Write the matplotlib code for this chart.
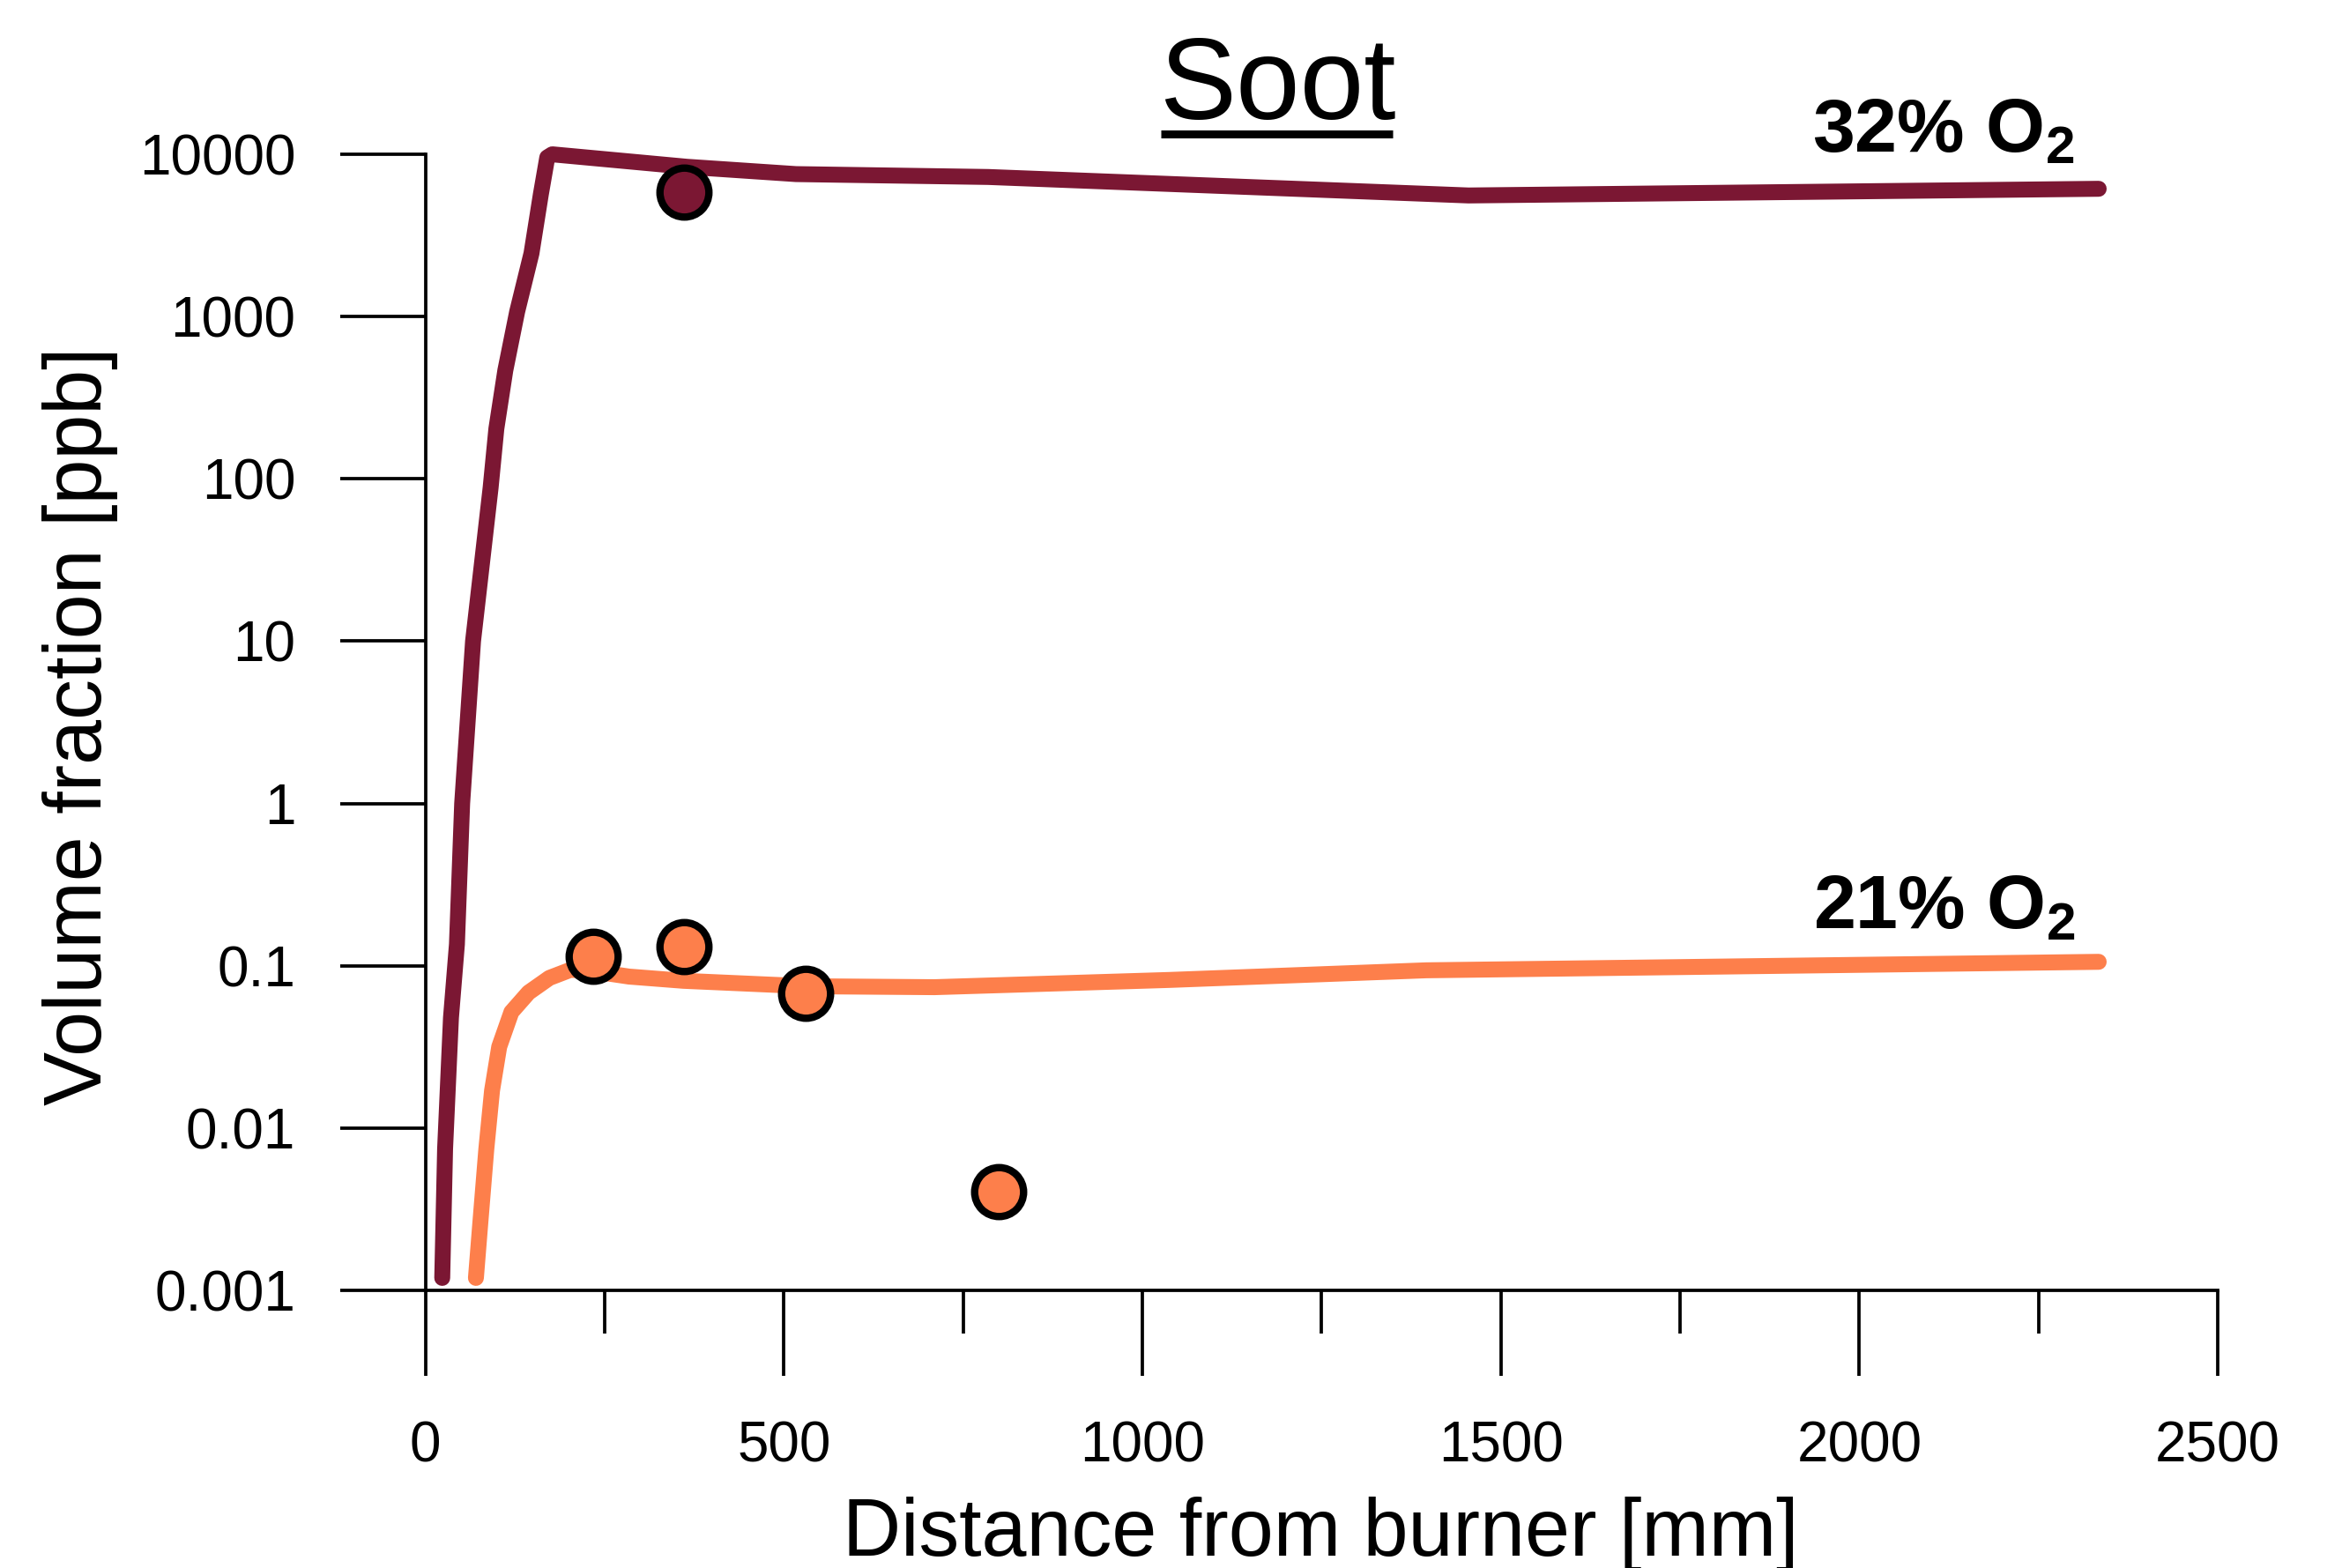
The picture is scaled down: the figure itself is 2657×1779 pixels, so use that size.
import matplotlib
matplotlib.use("Agg")
import matplotlib.pyplot as plt
from matplotlib.lines import Line2D

# ---- data ----
x_32 = [23.5, 27.5, 35.7, 44, 51.3, 66.5, 91, 99, 111.5, 128, 148, 161, 170, 177,
        365, 517, 785, 1455, 2334]
y_32 = [0.0012, 0.0075, 0.048, 0.136, 1, 10, 88, 203, 464, 1066, 2440, 5610, 9500, 9930,
        8320, 7500, 7200, 5540, 6090]

x_21 = [70.5, 76.7, 85, 93, 103, 120, 144, 173, 202, 225, 284, 360, 531, 710, 1038, 1396, 2334]
y_21 = [0.0012, 0.00264, 0.00745, 0.0171, 0.0318, 0.052, 0.0686, 0.0844, 0.0945, 0.094,
        0.086, 0.081, 0.075, 0.074, 0.082, 0.094, 0.106]

pts_32_x = [361]
pts_32_y = [5800]
pts_21_x = [233.5, 361, 530.5, 800]
pts_21_y = [0.114, 0.131, 0.068, 0.0041]

y_ticks = [0.001, 0.01, 0.1, 1, 10, 100, 1000, 10000]
y_tick_labels = ["0.001", "0.01", "0.1", "1", "10", "100", "1000", "10000"]
x_ticks = [0, 500, 1000, 1500, 2000, 2500]
x_tick_labels = ["0", "500", "1000", "1500", "2000", "2500"]
x_minor = [250, 750, 1250, 1750, 2250]

title = "Soot"
label_32 = "32% O$_2$"
label_21 = "21% O$_2$"
xlabel = "Distance from burner [mm]"
ylabel = "Volume fraction [ppb]"

c32 = "#7B1733"
c21 = "#FD7F4B"

plt.rcParams['font.family'] = ['Liberation Sans', 'DejaVu Sans']
plt.rcParams['mathtext.fontset'] = 'custom'
plt.rcParams['mathtext.rm'] = 'Liberation Sans:bold'
plt.rcParams['mathtext.it'] = 'Liberation Sans:bold'
plt.rcParams['mathtext.bf'] = 'Liberation Sans:bold'

fig = plt.figure(figsize=(26.57, 17.79), dpi=100)
ax = fig.add_axes([0.18163, 0.17679, 0.7653, 0.72512])

ax.plot(x_32, y_32, color=c32, lw=13, solid_capstyle='round', solid_joinstyle='round',
        clip_on=False, zorder=3)
ax.plot(x_21, y_21, color=c21, lw=13, solid_capstyle='round', solid_joinstyle='round',
        clip_on=False, zorder=3)
ax.plot(pts_32_x, pts_32_y, 'o', ms=40, mfc=c32, mec='black', mew=6, clip_on=False, zorder=4)
ax.plot(pts_21_x, pts_21_y, 'o', ms=40, mfc=c21, mec='black', mew=6, clip_on=False, zorder=4)

ax.set_yscale('log')
ax.set_xlim(0, 2500)
ax.set_ylim(0.001, 10000)
ax.set_yticks(y_ticks, y_tick_labels)
ax.yaxis.set_minor_locator(matplotlib.ticker.NullLocator())
ax.set_xticks(x_ticks, x_tick_labels)
ax.set_xticks(x_minor, minor=True)

for s in ['top', 'right']:
    ax.spines[s].set_visible(False)
for s in ['left', 'bottom']:
    ax.spines[s].set_linewidth(2.7)

ax.tick_params(axis='both', which='major', direction='out', length=70, width=2.7,
               labelsize=46, pad=36, colors='black')
ax.tick_params(axis='x', which='minor', direction='out', length=35, width=2.7)

ax.set_xlabel(xlabel, fontsize=66)
ax.xaxis.label.set_va('baseline')
ax.xaxis.set_label_coords(0.4996, -0.2329)
ax.set_ylabel(ylabel, fontsize=66)
ax.yaxis.label.set_va('center')
ax.yaxis.label.set_ha('center')
ax.yaxis.set_label_coords(-0.1926, 0.4965)

ax.text(1934, 10280, label_32, fontsize=62, fontweight='bold', ha='left', va='baseline')
ax.text(1936, 0.170, label_21, fontsize=62, fontweight='bold', ha='left', va='baseline')

fig.text(0.5453, 0.9241, title, fontsize=94, ha='center', va='baseline')
fig.add_artist(Line2D([0.4957, 0.5947], [0.9146, 0.9146], transform=fig.transFigure,
                      color='black', lw=6.5, solid_capstyle='butt'))

fig.savefig("out.png", dpi=100, facecolor='white')
